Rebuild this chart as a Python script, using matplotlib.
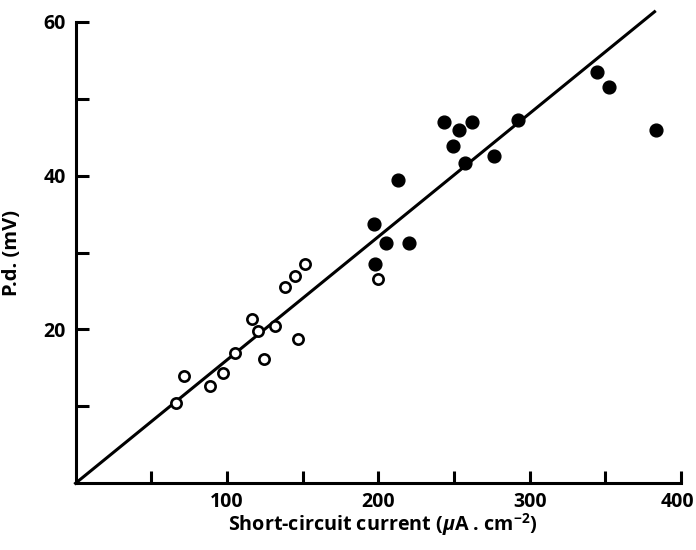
'''Short-circuit current vs p.d. scatter with fitted line'''
import matplotlib
matplotlib.use("Agg")
import matplotlib.pyplot as plt
import matplotlib.transforms as mtransforms
from matplotlib.ticker import FixedFormatter, FixedLocator

plt.rcParams['font.family'] = ['Open Sans', 'DejaVu Sans']
plt.rcParams['font.weight'] = 'bold'
plt.rcParams['mathtext.fontset'] = 'custom'
plt.rcParams['mathtext.it'] = 'Open Sans:italic:bold'
plt.rcParams['mathtext.rm'] = 'Open Sans:bold'

# open circles
open_x = [66.3, 71.8, 88.8, 97.2, 105.5, 116.7, 120.3, 124.6, 131.7, 147.1,
          138.3, 144.9, 151.9, 199.9]
open_y = [10.4, 14.0, 12.7, 14.3, 16.9, 21.3, 19.8, 16.1, 20.4, 18.7,
          25.5, 27.0, 28.5, 26.5]

# filled circles
filled_x = [197.5, 197.7, 205.0, 220.1, 212.7, 243.4, 253.1, 249.2, 261.9,
            257.6, 276.2, 292.5, 344.2, 352.3, 383.2]
filled_y = [33.7, 28.5, 31.3, 31.3, 39.4, 47.0, 45.9, 43.9, 47.0,
            41.6, 42.6, 47.2, 53.4, 51.5, 45.9]

# regression line through origin
line_x = [0, 382.5]
line_y = [0, 61.3]

fig = plt.figure(figsize=(6.96, 5.5), dpi=100)
ax = fig.add_axes([0.1085, 0.1213, 0.870, 0.8392])

ax.plot(line_x, line_y, color='black', linewidth=2.2, clip_on=False, zorder=2)
ax.plot(open_x, open_y, linestyle='none', marker='o', markersize=7.4,
        markerfacecolor='white', markeredgecolor='black', markeredgewidth=1.9,
        clip_on=False, zorder=3)
ax.plot(filled_x, filled_y, linestyle='none', marker='o', markersize=9.2,
        color='black', clip_on=False, zorder=3)

ax.set_xlim(0, 400)
ax.set_ylim(0, 60)

for side in ['top', 'right']:
    ax.spines[side].set_visible(False)
for side in ['left', 'bottom']:
    ax.spines[side].set_linewidth(2.2)

ax.xaxis.set_major_locator(FixedLocator([50, 100, 150, 200, 250, 300, 350, 400]))
ax.xaxis.set_major_formatter(FixedFormatter(['', '100', '', '200', '', '300', '', '400']))
ax.yaxis.set_major_locator(FixedLocator([10, 20, 30, 40, 50, 60]))
ax.yaxis.set_major_formatter(FixedFormatter(['', '20', '', '40', '', '60']))

ax.tick_params(axis='both', direction='in', length=9, width=2.2,
               labelsize=14)
ax.tick_params(axis='x', pad=6)
ax.tick_params(axis='y', pad=7)

# nudge the last x label a few pixels left so it stays inside the figure
last_label = ax.xaxis.get_major_ticks()[-1].label1
shift = mtransforms.ScaledTranslation(-4 / 100, 0, fig.dpi_scale_trans)
last_label.set_transform(last_label.get_transform() + shift)

ax.set_xlabel('Short-circuit current ($\\mu$A . cm$^{-2}$)', fontsize=14.2,
              fontweight='bold')
ax.xaxis.set_label_coords(0.508, -0.06)
ax.set_ylabel('P.d. (mV)', fontsize=14.5, fontweight='bold')
ax.yaxis.set_label_coords(-0.088, 0.5)

fig.savefig('out.png', dpi=100)
